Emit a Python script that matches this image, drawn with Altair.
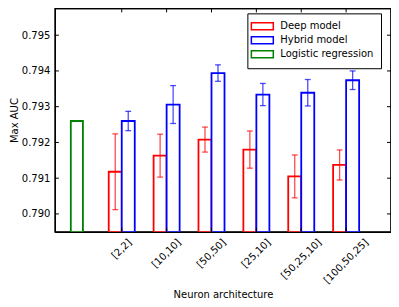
import altair as alt
import pandas as pd

archs = ["[2,2]", "[10,10]", "[50,50]", "[25,10]", "[50,25,10]", "[100,50,25]"]
arch_pos = [1, 2, 3, 4, 5, 6]
deep = [0.79118, 0.79163, 0.79208, 0.79180, 0.79105, 0.79137]
deep_err = [0.00106, 0.00060, 0.00035, 0.00052, 0.00060, 0.00042]
hybrid = [0.79260, 0.79306, 0.79394, 0.79334, 0.79339, 0.79374]
hybrid_err = [0.00027, 0.00053, 0.00023, 0.00031, 0.00037, 0.00026]
logistic = 0.79260
models = ["Deep model", "Hybrid model", "Logistic regression"]
colors = ["#ff0000", "#0000ff", "#008000"]
y_ticks = [0.790, 0.791, 0.792, 0.793, 0.794, 0.795]
y_domain = [0.7895, 0.79575]
x_domain = [-0.49, 7.0]

W, H = 337, 224
FONT = "DejaVu Sans"

rows = []
for a, p, d, de, h, he in zip(archs, arch_pos, deep, deep_err, hybrid, hybrid_err):
    rows.append({"arch": a, "pos": p, "model": models[0], "value": d, "err": de})
    rows.append({"arch": a, "pos": p, "model": models[1], "value": h, "err": he})
rows.append({"arch": "", "pos": 0, "model": models[2], "value": logistic, "err": 0.0})
df = pd.DataFrame(rows)

labels_df = pd.DataFrame({"arch": archs, "pos": arch_pos})
ytick_df = pd.DataFrame({"y": y_ticks})
xtick_df = pd.DataFrame({"pos": arch_pos})
frame_df = pd.DataFrame({"xa": [x_domain[0]], "xb": [x_domain[1]],
                         "ya": [y_domain[0]], "yb": [y_domain[1]]})

xs = alt.Scale(domain=x_domain, nice=False, zero=False)
ys = alt.Scale(domain=y_domain, nice=False, zero=False)
cscale = alt.Scale(domain=models, range=colors)

base = alt.Chart(df).transform_calculate(
    x0="datum.model == 'Deep model' ? datum.pos - 0.29 : (datum.model == 'Hybrid model' ? datum.pos : datum.pos - 0.135)",
).transform_calculate(
    x1="datum.model == 'Logistic regression' ? datum.x0 + 0.27 : datum.x0 + 0.29",
).transform_calculate(
    xc="(datum.x0 + datum.x1) / 2",
    lo="datum.value - datum.err",
    hi="datum.value + datum.err",
    c0="(datum.x0 + datum.x1) / 2 - 0.065",
    c1="(datum.x0 + datum.x1) / 2 + 0.065",
)

bars = base.mark_bar(fill="white", strokeWidth=1.8, clip=True).encode(
    x=alt.X("x0:Q", scale=xs,
            axis=alt.Axis(labels=False, ticks=False, domain=True, domainColor="black",
                          domainWidth=1.3, grid=False,
                          title="Neuron architecture", titleFont=FONT, titleFontSize=10,
                          titleFontWeight="normal", titleColor="black",
                          titleBaseline="alphabetic", titleY=65.5)),
    x2="x1:Q",
    y=alt.Y("value:Q", scale=ys,
            axis=alt.Axis(values=y_ticks, format=".3f", ticks=False, domain=True,
                          domainColor="black", domainWidth=1.3, grid=False,
                          labelFont=FONT, labelFontSize=10, labelColor="black", labelPadding=5,
                          title="Max AUC", titleFont=FONT, titleFontSize=10,
                          titleFontWeight="normal", titleColor="black",
                          titleX=-37.5, titleY=H / 2, titleBaseline="alphabetic")),
    y2=alt.datum(y_domain[0]),
    stroke=alt.Stroke("model:N", scale=cscale,
                      legend=alt.Legend(title=None, orient="none", legendX=193, legendY=5,
                                        symbolType="M-2.2,-0.7H2.2V0.7H-2.2Z", symbolSize=100,
                                        symbolOffset=2,
                                        symbolStrokeWidth=1.5, symbolFillColor="white",
                                        labelFont=FONT, labelFontSize=10, labelColor="black",
                                        labelOffset=12, rowPadding=0, padding=7,
                                        strokeColor="black", fillColor="white")),
)

eb = base.transform_filter("datum.err > 0")
err_line = eb.mark_rule(strokeWidth=1.3, opacity=0.7).encode(
    x=alt.X("xc:Q", scale=xs), y=alt.Y("lo:Q", scale=ys), y2="hi:Q",
    color=alt.Color("model:N", scale=cscale, legend=None),
)
cap_hi = eb.mark_rule(strokeWidth=1.3, opacity=0.7).encode(
    x=alt.X("c0:Q", scale=xs), x2="c1:Q", y=alt.Y("hi:Q", scale=ys),
    color=alt.Color("model:N", scale=cscale, legend=None),
)
cap_lo = eb.mark_rule(strokeWidth=1.3, opacity=0.7).encode(
    x=alt.X("c0:Q", scale=xs), x2="c1:Q", y=alt.Y("lo:Q", scale=ys),
    color=alt.Color("model:N", scale=cscale, legend=None),
)

ytl = alt.Chart(ytick_df).mark_rule(color="black", strokeWidth=1).encode(
    y=alt.Y("y:Q", scale=ys), x=alt.value(0), x2=alt.value(4))
ytr = alt.Chart(ytick_df).mark_rule(color="black", strokeWidth=1).encode(
    y=alt.Y("y:Q", scale=ys), x=alt.value(W - 4), x2=alt.value(W))
xtb = alt.Chart(xtick_df).mark_rule(color="black", strokeWidth=1).encode(
    x=alt.X("pos:Q", scale=xs), y=alt.value(H - 4), y2=alt.value(H))
xtt = alt.Chart(xtick_df).mark_rule(color="black", strokeWidth=1).encode(
    x=alt.X("pos:Q", scale=xs), y=alt.value(0), y2=alt.value(4))

fr = alt.Chart(frame_df).mark_rule(color="black", strokeWidth=1.5)
frame_r = fr.encode(x=alt.X("xb:Q", scale=xs), y=alt.Y("ya:Q", scale=ys), y2="yb:Q")
frame_t = fr.encode(y=alt.Y("yb:Q", scale=ys), x=alt.X("xa:Q", scale=xs), x2="xb:Q")

xlabels = alt.Chart(labels_df).transform_calculate(
    nd="length(replace(datum.arch, /[^0-9]/g, ''))",
).transform_calculate(
    L="datum.nd * 6.36 + (length(datum.arch) - datum.nd) * 3.6",
).transform_calculate(
    lx="datum.pos + 0.354 * datum.L / 45",
).mark_text(font=FONT, fontSize=10, color="black", align="right", baseline="middle",
            angle=315).encode(
    x=alt.X("lx:Q", scale=xs), y=alt.value(H + 9), text="arch:N")

chart = alt.layer(bars, err_line, cap_hi, cap_lo, ytl, ytr, xtb, xtt,
                  frame_r, frame_t, xlabels).properties(
    width=W, height=H,
    background="white",
    autosize=alt.AutoSizeParams(type="none"),
    padding={"left": 47, "top": 0, "right": 0, "bottom": 72},
).configure_view(stroke="black", strokeWidth=1.3)

chart.save("out.html", embed_options={"renderer": "svg", "actions": False})
